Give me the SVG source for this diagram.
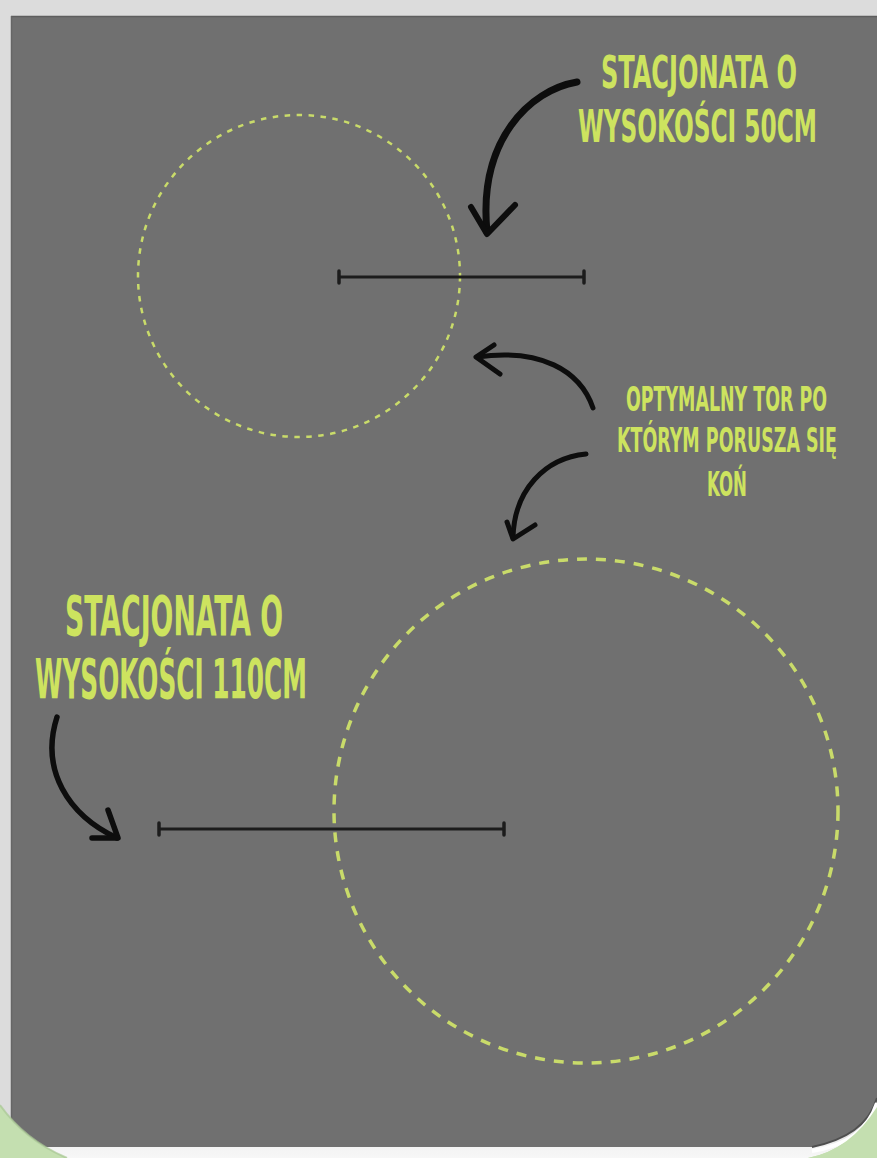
<svg xmlns="http://www.w3.org/2000/svg" width="877" height="1158" viewBox="0 0 877 1158">
  <defs>
    <style>
      .lbl { font-family: "DejaVu Sans Condensed", "DejaVu Sans", "Liberation Sans", sans-serif; font-weight: bold; fill: #cde35f; text-anchor: middle; }
      .arrow { fill: none; stroke: #0d0d0d; stroke-linecap: round; stroke-linejoin: round; }
      .bar { stroke: #1c1c1c; stroke-width: 3; fill: none; }
      .tick { stroke: #1c1c1c; stroke-width: 3.5; stroke-linecap: round; }
    </style>
    <linearGradient id="cardGrad" x1="0" y1="1130" x2="0" y2="1158" gradientUnits="userSpaceOnUse">
      <stop offset="0" stop-color="#dcdcdc"/>
      <stop offset="0.6" stop-color="#f3f3f3"/>
      <stop offset="1" stop-color="#f7f7f7"/>
    </linearGradient>
  </defs>

  <!-- background / card -->
  <rect x="0" y="0" width="877" height="1158" fill="#c4dfb0"/>
  <path d="M0,0 H877 V1107 Q850,1150 808,1158 H67 Q25,1140 0,1105 Z" fill="url(#cardGrad)"/>

  <!-- gray panel -->
  <g id="panel">
    <path d="M11,16 H877 V1098 Q866,1136 812,1147 H11 Z" fill="#707070"/>
    <path d="M11,16.5 H877" stroke="#5e5e5e" stroke-width="1.5"/>
    <path d="M11.5,16 V1147" stroke="#666" stroke-width="1.5"/>
    <path d="M877,1098 Q866,1136 812,1147" fill="none" stroke="#4f4f4f" stroke-width="2"/>
    <path d="M877,1103 Q864,1143 812,1151" fill="none" stroke="#ffffff" stroke-width="4"/>
  </g>

  <!-- green corners over the card -->
  <path d="M0,1105 Q25,1140 67,1158 H0 Z" fill="#c4dfb0"/>
  <path d="M0,1105 Q25,1140 67,1158" fill="none" stroke="#a9c795" stroke-width="2" opacity="0.7"/>
  <path d="M877,1107 Q850,1150 808,1158 H877 Z" fill="#c4dfb0"/>

  <!-- circles (paths) -->
  <g id="path-small">
    <circle cx="299" cy="276" r="161" fill="none" stroke="#c9db6a" stroke-width="2.5" stroke-dasharray="5.5 6.5"/>
  </g>
  <g id="path-large">
    <circle cx="586" cy="811" r="252" fill="none" stroke="#c9db6a" stroke-width="3.5" stroke-dasharray="10 9"/>
  </g>

  <!-- fences -->
  <g id="fence-50">
    <line class="bar" x1="338" y1="277" x2="584" y2="277"/>
    <line class="tick" x1="339" y1="271" x2="339" y2="283"/>
    <line class="tick" x1="584" y1="271" x2="584" y2="283"/>
  </g>
  <g id="fence-110">
    <line class="bar" x1="158" y1="829" x2="504" y2="829"/>
    <line class="tick" x1="159" y1="823" x2="159" y2="835"/>
    <line class="tick" x1="504" y1="823" x2="504" y2="835"/>
  </g>

  <!-- labels -->
  <g id="label-50">
    <text class="lbl" transform="translate(699,88) scale(0.6,1)" x="0" y="0" font-size="44" textLength="326.7" lengthAdjust="spacingAndGlyphs">STACJONATA O</text>
    <text class="lbl" transform="translate(697.5,142) scale(0.6,1)" x="0" y="0" font-size="44" textLength="398.3" lengthAdjust="spacingAndGlyphs">WYSOKOŚCI 50CM</text>
  </g>
  <g id="label-path">
    <text class="lbl" transform="translate(726.5,411) scale(0.6,1)" x="0" y="0" font-size="34" textLength="335" lengthAdjust="spacingAndGlyphs">OPTYMALNY TOR PO</text>
    <text class="lbl" transform="translate(727,452) scale(0.6,1)" x="0" y="0" font-size="34" textLength="366.7" lengthAdjust="spacingAndGlyphs">KTÓRYM PORUSZA SIĘ</text>
    <text class="lbl" transform="translate(727,496) scale(0.6,1)" x="0" y="0" font-size="34" textLength="66.7" lengthAdjust="spacingAndGlyphs">KOŃ</text>
  </g>
  <g id="label-110">
    <text class="lbl" transform="translate(174,635) scale(0.55,1)" x="0" y="0" font-size="56" textLength="396.4" lengthAdjust="spacingAndGlyphs">STACJONATA O</text>
    <text class="lbl" transform="translate(171,698) scale(0.55,1)" x="0" y="0" font-size="56" textLength="494.5" lengthAdjust="spacingAndGlyphs">WYSOKOŚCI 110CM</text>
  </g>

  <!-- connectors -->
  <g id="connectors">
    <g id="arrow-50">
      <path class="arrow" stroke-width="7" d="M577,82 C530,90 478,140 487,232"/>
      <path class="arrow" stroke-width="6" d="M471,207 L487,234 L515,205"/>
    </g>
    <g id="arrow-path-up">
      <path class="arrow" stroke-width="5" d="M593,408 C580,370 540,348 477,357"/>
      <path class="arrow" stroke-width="5" d="M494,345 L476,357 L500,374"/>
    </g>
    <g id="arrow-path-down">
      <path class="arrow" stroke-width="5" d="M586,454 C545,458 514,490 513,538"/>
      <path class="arrow" stroke-width="5" d="M507,522 L513,539 L535,525"/>
    </g>
    <g id="arrow-110">
      <path class="arrow" stroke-width="5.5" d="M57,717 C40,770 68,815 117,838"/>
      <path class="arrow" stroke-width="5.5" d="M108,810 L118,838 L92,838"/>
    </g>
  </g>
</svg>
